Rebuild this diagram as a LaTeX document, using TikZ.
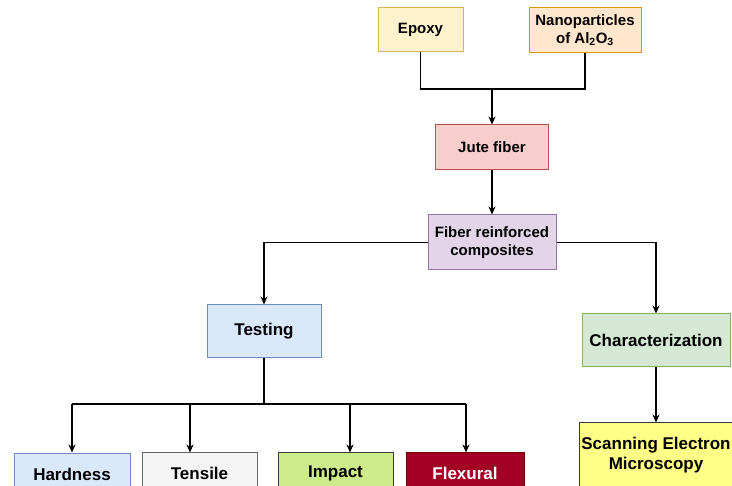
\documentclass[tikz,border=0pt]{standalone}
\usepackage{fontspec}
\setmainfont{Liberation Sans}
\usetikzlibrary{arrows.meta}
\definecolor{epoxyF}{HTML}{FFF2CC}\definecolor{epoxyD}{HTML}{D6B656}
\definecolor{nanoF}{HTML}{FFE6CC}\definecolor{nanoD}{HTML}{D79B00}
\definecolor{juteF}{HTML}{F8CECC}\definecolor{juteD}{HTML}{B85450}
\definecolor{fibF}{HTML}{E1D5E7}\definecolor{fibD}{HTML}{9673A6}
\definecolor{blueF}{HTML}{DAE8FC}\definecolor{blueD}{HTML}{6C8EBF}
\definecolor{greenF}{HTML}{D5E8D4}\definecolor{greenD}{HTML}{82B366}
\definecolor{grayF}{HTML}{F5F5F5}\definecolor{grayD}{HTML}{666666}
\definecolor{limeF}{HTML}{CDEB8B}\definecolor{limeD}{HTML}{36393D}
\definecolor{redF}{HTML}{A20025}\definecolor{redD}{HTML}{6F0000}
\definecolor{yelF}{HTML}{FFFF88}\definecolor{yelD}{HTML}{36393D}
\begin{document}
\begin{tikzpicture}[x=1pt,y=-1pt,
  box/.style={draw, line width=1pt, align=center, inner sep=2pt,
    font=\bfseries\fontsize{15}{17.5}\selectfont},
  big/.style={font=\bfseries\fontsize{17}{19.5}\selectfont},
  conn/.style={line width=1.3pt, black},
  arr/.style={conn, -{Stealth[length=8pt,width=7pt]}}]
\clip (0,0) rectangle (732,486);
\fill[white] (0,0) rectangle (732,486);
\node[box, fill=epoxyF, draw=epoxyD, minimum width=85pt, minimum height=44pt] (epoxy) at (420.5,30) {Epoxy};
\node[box, fill=nanoF, draw=nanoD, minimum width=112pt, minimum height=45pt] (nano) at (585,30.5) {Nanoparticles\\of Al\textsubscript{2}O\textsubscript{3}};
\node[box, fill=juteF, draw=juteD, minimum width=113pt, minimum height=45pt] (jute) at (492,147.5) {Jute fiber};
\node[box, fill=fibF, draw=fibD, minimum width=128pt, minimum height=55pt] (fiber) at (492,242.5) {Fiber reinforced\\composites};
\node[box, big, fill=blueF, draw=blueD, minimum width=114pt, minimum height=53pt] (testing) at (264,331.5) {Testing};
\node[box, big, fill=greenF, draw=greenD, minimum width=148pt, minimum height=53pt] (char) at (656,340.5) {Characterization};
\node[box, big, fill=yelF, draw=yelD, minimum width=150pt, minimum height=64pt] (sem) at (656,455) {Scanning Electron\\Microscopy};
\node[box, big, fill=blueF, draw=blueD, minimum width=116pt, minimum height=40pt] (hard) at (72,474) {Hardness};
\node[box, big, fill=grayF, draw=grayD, minimum width=115pt, minimum height=40pt] (tens) at (199.5,473) {Tensile};
\node[box, big, fill=limeF, draw=limeD, minimum width=115pt, minimum height=40pt] (imp) at (335.5,473) {Impact};
\node[box, big, fill=redF, draw=redD, text=white, minimum width=118pt, minimum height=40pt] (flex) at (465,473) {Flexural};
% connectors
\coordinate (m) at (492,89);
\draw[conn] (epoxy.south) |- (m);
\draw[conn] (nano.south) |- (m);
\draw[arr] (m) -- (jute.north);
\draw[arr] (jute.south) -- (fiber.north);
\draw[arr] (fiber.west) -| (testing.north);
\draw[arr] (fiber.east) -| (char.north);
\draw[arr] (char.south) -- (sem.north);
\coordinate (b) at (264,404);
\coordinate (b1) at (72,404);
\coordinate (b2) at (190,404);
\coordinate (b3) at (350,404);
\coordinate (b4) at (466,404);
\draw[conn] (testing.south) -- (b);
\draw[conn] (b1) -- (b4);
\draw[arr] (b1) -- (b1 |- tens.north);
\draw[arr] (b2) -- (b2 |- tens.north);
\draw[arr] (b3) -- (b3 |- imp.north);
\draw[arr] (b4) -- (b4 |- flex.north);
\end{tikzpicture}
\end{document}
